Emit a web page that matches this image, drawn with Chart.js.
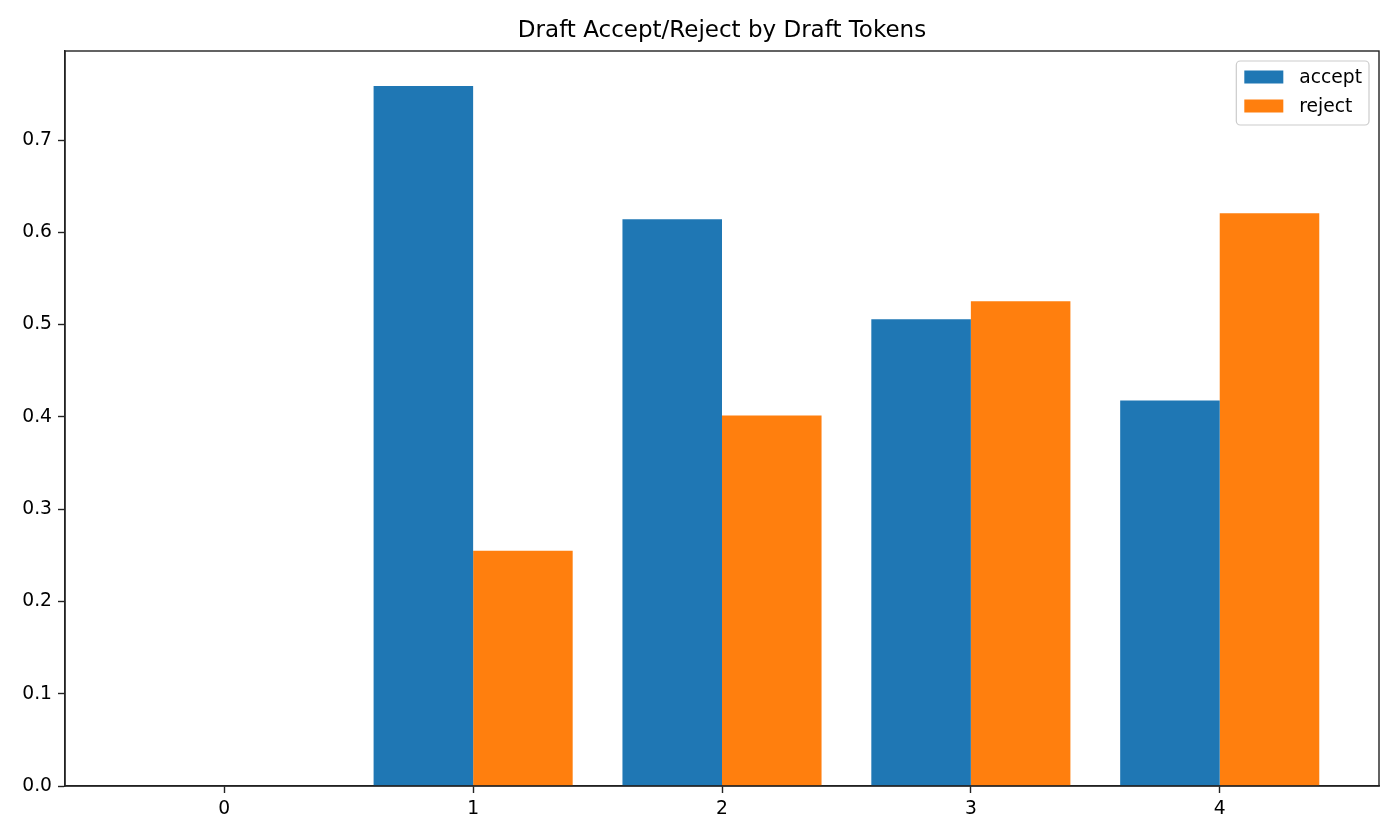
<!DOCTYPE html>
<html>
<head>
<meta charset="utf-8">
<script src="https://cdn.jsdelivr.net/npm/chart.js@4/dist/chart.umd.min.js"></script>
<style>
html,body{margin:0;padding:0;background:#fff;}
#wrap{width:1400px;height:840px;}
</style>
</head>
<body>
<div id="wrap"><canvas id="c" width="1400" height="840"></canvas></div>
<script>
const categories = [0, 1, 2, 3, 4];
const acceptValues = [0, 0.7586, 0.6143, 0.5058, 0.4178];
const rejectValues = [0, 0.2550, 0.4016, 0.5253, 0.6208];
const yTicks = [0, 0.1, 0.2, 0.3, 0.4, 0.5, 0.6, 0.7];
const xTicks = [0, 1, 2, 3, 4];
const seriesNames = ['accept', 'reject'];
const seriesColors = ['#1f77b4', '#ff7f0e'];
const titleText = 'Draft Accept/Reject by Draft Tokens';

const FONT = "'DejaVu Sans', sans-serif";
const TICK_PX = 18.7;
const TITLE_PX = 23;

const frame = {
  id: 'frame',
  afterLayout(chart) {
    const t = chart.titleBlock, a = chart.chartArea;
    if (t) { t.left = a.left; t.right = a.right; t.width = a.right - a.left; }
  },
  afterDatasetsDraw(chart) {
    const a = chart.chartArea, ctx = chart.ctx;
    ctx.save();
    ctx.strokeStyle = '#222';
    ctx.lineWidth = 1.4;
    ctx.strokeRect(a.left, a.top, a.right - a.left, a.bottom - a.top);
    ctx.restore();
  }
};

const legendBox = {
  id: 'legendBox',
  afterDraw(chart) {
    const a = chart.chartArea, ctx = chart.ctx;
    ctx.save();
    ctx.font = TICK_PX + 'px ' + FONT;
    const items = chart.data.datasets.map(d => ({label: d.label, color: d.backgroundColor}));
    const tw = Math.max(...items.map(i => ctx.measureText(i.label).width));
    const pad = 8, hl = 39, hh = 13, gap = 16, rowH = 29;
    const w = pad + hl + gap + tw + 7;
    const h = 16 + rowH * (items.length - 1) + 19;
    const x = a.right - 10 - w, y = a.top + 10;
    ctx.fillStyle = 'rgba(255,255,255,0.8)';
    ctx.strokeStyle = '#cccccc';
    ctx.lineWidth = 1.2;
    ctx.beginPath();
    ctx.roundRect(x, y, w, h, 4);
    ctx.fill();
    ctx.stroke();
    items.forEach((it, i) => {
      const cy = y + 16 + i * rowH;
      ctx.fillStyle = it.color;
      ctx.fillRect(x + pad, cy - hh / 2, hl, hh);
      ctx.fillStyle = '#000';
      ctx.textBaseline = 'middle';
      ctx.textAlign = 'left';
      ctx.fillText(it.label, x + pad + hl + gap, cy + 1);
    });
    ctx.restore();
  }
};

new Chart(document.getElementById('c'), {
  type: 'bar',
  data: {
    datasets: [
      { label: seriesNames[0], data: categories.map((c, i) => ({x: c, y: acceptValues[i]})), backgroundColor: seriesColors[0], borderWidth: 0, categoryPercentage: 0.8, barPercentage: 1.0 },
      { label: seriesNames[1], data: categories.map((c, i) => ({x: c, y: rejectValues[i]})), backgroundColor: seriesColors[1], borderWidth: 0, categoryPercentage: 0.8, barPercentage: 1.0 }
    ]
  },
  options: {
    responsive: false,
    animation: false,
    devicePixelRatio: 1,
    layout: { padding: { left: 0, right: 21, top: 0, bottom: 0 } },
    plugins: {
      legend: { display: false },
      tooltip: { enabled: false },
      title: {
        display: true,
        text: titleText,
        color: '#000',
        font: { family: FONT, size: TITLE_PX, weight: 'normal', lineHeight: 1.2 },
        padding: { top: 17.4, bottom: 6 }
      }
    },
    scales: {
      x: {
        type: 'linear',
        offset: false,
        min: -0.64,
        max: 4.64,
        afterBuildTicks: s => { s.ticks = xTicks.map(v => ({value: v})); },
        afterFit: s => { s.height = 54; },
        grid: { display: true, drawOnChartArea: false, drawTicks: true, tickLength: 7, tickColor: '#222', tickWidth: 1.4, offset: false },
        border: { display: true, color: '#222', width: 1.4 },
        ticks: { color: '#000', font: { family: FONT, size: TICK_PX }, padding: 5, maxRotation: 0, autoSkip: false, callback: v => String(v) }
      },
      y: {
        type: 'linear',
        min: 0,
        max: 0.7965,
        afterBuildTicks: s => { s.ticks = yTicks.map(v => ({value: v})); },
        afterFit: s => { s.width = 65; },
        grid: { display: true, drawOnChartArea: false, drawTicks: true, tickLength: 7, tickColor: '#222', tickWidth: 1.4 },
        border: { display: true, color: '#222', width: 1.4 },
        ticks: { color: '#000', font: { family: FONT, size: TICK_PX }, padding: 6, autoSkip: false, callback: v => Number(v).toFixed(1) }
      }
    }
  },
  plugins: [frame, legendBox]
});
</script>
</body>
</html>
